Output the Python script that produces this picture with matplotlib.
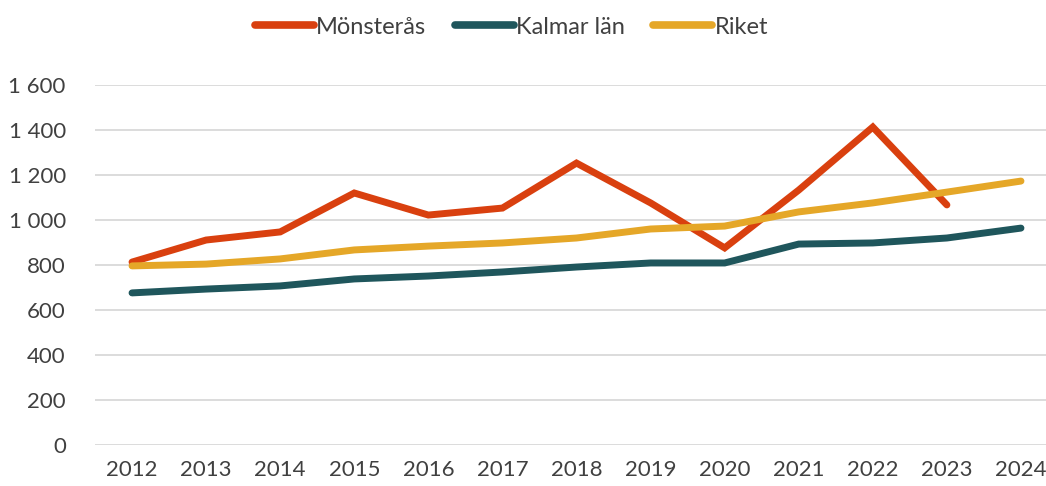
import matplotlib
matplotlib.use("Agg")
import matplotlib.pyplot as plt
from matplotlib.ticker import FuncFormatter

years = [2012, 2013, 2014, 2015, 2016, 2017, 2018, 2019, 2020, 2021, 2022, 2023, 2024]
monsteras = [813, 911, 947, 1120, 1022, 1053, 1253, 1076, 876, 1133, 1413, 1067, None]
kalmar = [676, 693, 707, 738, 751, 769, 791, 809, 809, 893, 898, 920, 964]
riket = [796, 804, 827, 867, 884, 898, 920, 960, 973, 1036, 1076, 1124, 1173]

series_names = ["Mönsterås", "Kalmar län", "Riket"]
colors = ["#D9400F", "#1F565C", "#E5A728"]

plt.rcParams['font.family'] = ['Lato', 'DejaVu Sans']

fig = plt.figure(figsize=(10.46, 4.86), dpi=100)
ax = fig.add_axes([95/1046, 41/486, 963/1046, 360/486])

for name, vals, c in zip(series_names, [monsteras, kalmar, riket], colors):
    x = [y for y, v in zip(years, vals) if v is not None]
    v = [v for v in vals if v is not None]
    ax.plot(x, v, color=c, lw=5.0, solid_capstyle='round', solid_joinstyle='miter', label=name)

ax.set_xlim(2011.5, 2024.5)
ax.set_ylim(0, 1600)
ax.set_yticks(range(0, 1601, 200))
ax.yaxis.set_major_formatter(FuncFormatter(lambda v, p: f"{int(v):,}".replace(",", " ")))
ax.set_xticks(years)
ax.grid(axis='y', color='#D9D9D9', lw=1.3)
ax.set_axisbelow(True)
for s in ax.spines.values():
    s.set_visible(False)
ax.tick_params(axis='both', length=0, labelsize=16, colors='#404040')
ax.tick_params(axis='y', pad=21)
ax.tick_params(axis='x', pad=11)

leg = fig.legend(loc='center', bbox_to_anchor=(0.489, 0.944), ncol=3, frameon=False,
                 fontsize=17, handlelength=2.5, handletextpad=0.1, columnspacing=1.2)
for t in leg.get_texts():
    t.set_color('#404040')
for l in leg.get_lines():
    l.set_linewidth(5.5)
    l.set_solid_capstyle('round')

fig.savefig("out.png", dpi=100)
